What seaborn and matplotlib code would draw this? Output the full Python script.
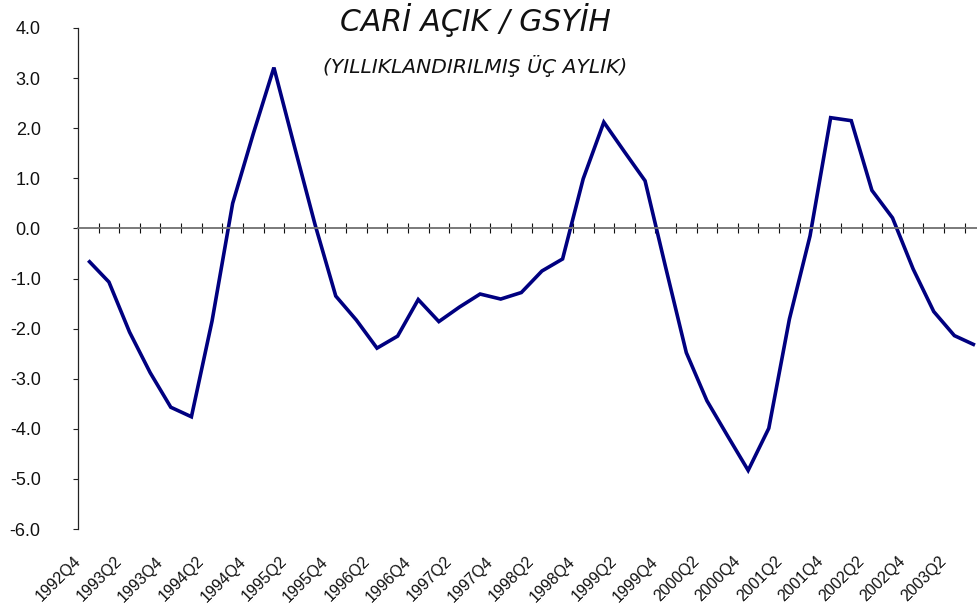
import numpy as np
import pandas as pd
import matplotlib
matplotlib.use("Agg")
import matplotlib.pyplot as plt
import matplotlib.transforms as mtransforms
import seaborn as sns

# Quarterly current account deficit / GDP (annualised, %)
quarters = [
    "1992Q4",
    "1993Q1", "1993Q2", "1993Q3", "1993Q4",
    "1994Q1", "1994Q2", "1994Q3", "1994Q4",
    "1995Q1", "1995Q2", "1995Q3", "1995Q4",
    "1996Q1", "1996Q2", "1996Q3", "1996Q4",
    "1997Q1", "1997Q2", "1997Q3", "1997Q4",
    "1998Q1", "1998Q2", "1998Q3", "1998Q4",
    "1999Q1", "1999Q2", "1999Q3", "1999Q4",
    "2000Q1", "2000Q2", "2000Q3", "2000Q4",
    "2001Q1", "2001Q2", "2001Q3", "2001Q4",
    "2002Q1", "2002Q2", "2002Q3", "2002Q4",
    "2003Q1", "2003Q2", "2003Q3",
]
deficit_gdp = [
    -0.64, -1.07, -2.07, -2.88, -3.57,
    -3.76, -1.85, 0.50, 1.89,
    3.21, 1.63, 0.07, -1.35,
    -1.83, -2.39, -2.15, -1.42,
    -1.86, -1.57, -1.31, -1.41,
    -1.28, -0.85, -0.61, 0.99,
    2.12, 1.53, 0.95, -0.78,
    -2.48, -3.44, -4.14, -4.83,
    -3.99, -1.81, -0.15, 2.21,
    2.15, 0.76, 0.21, -0.81,
    -1.66, -2.14, -2.33,
]
y_ticks = [4.0, 3.0, 2.0, 1.0, 0.0, -1.0, -2.0, -3.0, -4.0, -5.0, -6.0]
title = "CARİ AÇIK / GSYİH"
subtitle = "(YILLIKLANDIRILMIŞ ÜÇ AYLIK)"

sns.set_style("white")
plt.rcParams["font.family"] = ["Liberation Sans", "DejaVu Sans"]
plt.rcParams["axes.unicode_minus"] = False

df = pd.DataFrame({"quarter": quarters, "value": deficit_gdp})
df["pos"] = np.arange(len(df)) + 0.5

W, H = 977, 608
fig = plt.figure(figsize=(W / 100, H / 100), dpi=100)
left_px, right_px, top_px, bottom_px = 78, 985.3, 28, 529
ax = fig.add_axes([left_px / W, 1 - bottom_px / H,
                   (right_px - left_px) / W, (bottom_px - top_px) / H])
ax.set_facecolor("white")

sns.lineplot(data=df, x="pos", y="value", ax=ax, color="#000080",
             linewidth=2.6, solid_joinstyle="miter", solid_capstyle="butt",
             legend=False)

ax.set_xlim(0, len(df))
ax.set_ylim(-6, 4)
ax.set_xlabel("")
ax.set_ylabel("")

# axes: left spine plus a horizontal axis crossing at zero
for s in ["top", "right"]:
    ax.spines[s].set_visible(False)
ax.spines["left"].set_color("#222222")
ax.spines["left"].set_linewidth(0.9)
ax.spines["bottom"].set_position(("data", 0))
ax.spines["bottom"].set_color("#707070")
ax.spines["bottom"].set_linewidth(1.3)

ax.set_yticks(y_ticks)
ax.set_yticklabels([f"{v:.1f}" for v in y_ticks], fontsize=13, color="#111111")
ax.tick_params(axis="y", left=True, direction="out", length=3.6, width=0.8,
               color="#222222", pad=23.3)

ax.set_xticks(np.arange(1, len(df)))
ax.tick_params(axis="x", bottom=True, direction="inout", length=7, width=0.8,
               color="#111111", labelbottom=False)

# rotated quarter labels below the plot, every second quarter
lab_tr = mtransforms.offset_copy(ax.get_xaxis_transform(), fig=fig,
                                 x=-10, y=-30, units="dots")
for i in range(0, len(df), 2):
    ax.text(df["pos"][i], 0, quarters[i], transform=lab_tr, rotation=45,
            rotation_mode="anchor", ha="right", va="center",
            fontsize=11.5, color="#111111")

fig.text(475 / W, 1 - 20 / H, title, ha="center", va="center",
         fontsize=21.5, style="italic", family="DejaVu Sans", color="#111111")
fig.text(475 / W, 1 - 66 / H, subtitle, ha="center", va="center",
         fontsize=14.6, style="italic", family="DejaVu Sans", color="#111111")

fig.savefig("out.png", dpi=100, facecolor="white")
